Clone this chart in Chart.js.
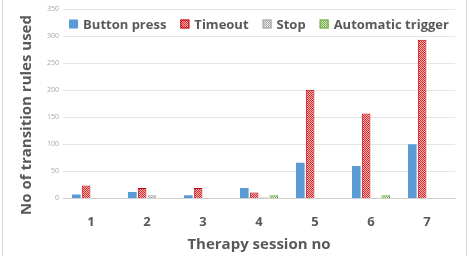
<!DOCTYPE html>
<html>
<head>
<meta charset="utf-8">
<script src="https://cdn.jsdelivr.net/npm/chart.js@4.4.0/dist/chart.umd.min.js"></script>
<style>
  html, body { margin: 0; padding: 0; background: #fff; }
  #wrap { position: relative; width: 473px; height: 256px; }
  #frame { position: absolute; left: 2px; top: -2px; width: 463px; height: 262px; border: 1px solid #d9d9d9; border-radius: 3px; pointer-events: none; }
</style>
</head>
<body>
<div id="wrap">
  <canvas id="barChart" width="473" height="256"></canvas>
  <div id="frame"></div>
</div>
<script>
// Data
const sessions = ["1", "2", "3", "4", "5", "6", "7"];
const buttonPress = [7, 12, 6, 19, 66, 60, 100];
const timeout = [24, 19, 19, 11, 201, 157, 293];
const stopValues = [0, 6, 1, 2, 0, 1, 0];
const automaticTrigger = [0, 0, 0, 6, 0, 6, 0];
const yTicks = [0, 50, 100, 150, 200, 250, 300, 350];
const yTitle = "No of transition rules used";

// small checkered fill like the office-style pattern bars
function makePattern(fg, bg) {
  const c = document.createElement("canvas");
  c.width = 2;
  c.height = 2;
  const g = c.getContext("2d");
  g.fillStyle = bg;
  g.fillRect(0, 0, 2, 2);
  g.fillStyle = fg;
  g.fillRect(0, 0, 1, 1);
  g.fillRect(1, 1, 1, 1);
  return g.createPattern(c, "repeat");
}

const grey = "#595959";
const font = "'Open Sans', 'DejaVu Sans', sans-serif";

// legend drawn inside the plot area, between the 350 and 300 gridlines,
// and the y title, which sits a little lower than the plot's middle
const extras = {
  id: "extras",
  afterDraw(chart) {
    const c = chart.ctx;
    const area = chart.chartArea;
    const box = 9;
    const gap = 5;
    const spacing = 14;
    c.save();
    c.font = "bold 13px " + font;
    c.textBaseline = "middle";
    const items = chart.data.datasets.map((ds) => ({
      ds,
      w: box + gap + c.measureText(ds.label).width,
    }));
    const total = items.reduce((s, it) => s + it.w, 0) + spacing * (items.length - 1);
    let x = (area.left + area.right) / 2 - total / 2;
    const y = area.top + 15;
    items.forEach((it) => {
      c.fillStyle = it.ds.backgroundColor;
      c.fillRect(x, y - box / 2, box, box);
      if (it.ds.borderWidth) {
        c.strokeStyle = it.ds.borderColor;
        c.lineWidth = 1;
        c.strokeRect(x + 0.5, y - box / 2 + 0.5, box - 1, box - 1);
      }
      c.fillStyle = grey;
      c.fillText(it.ds.label, x + box + gap, y + 1);
      x += it.w + spacing;
    });

    c.translate(27, 115);
    c.rotate(-Math.PI / 2);
    c.font = "bold 15px " + font;
    c.textAlign = "center";
    c.fillText(yTitle, 0, 0);
    c.restore();
  },
};

const ctx = document.getElementById("barChart").getContext("2d");

new Chart(ctx, {
  type: "bar",
  data: {
    labels: sessions,
    datasets: [
      {
        label: "Button press",
        data: buttonPress,
        backgroundColor: "#5B9BD5",
        borderWidth: 0,
      },
      {
        label: "Timeout",
        data: timeout,
        backgroundColor: makePattern("#D62A2F", "#F6B3B3"),
        borderColor: "#C00000",
        borderWidth: 1,
      },
      {
        label: "Stop",
        data: stopValues,
        backgroundColor: makePattern("#A5A5A5", "#EDEDED"),
        borderColor: "#A5A5A5",
        borderWidth: 1,
      },
      {
        label: "Automatic trigger",
        data: automaticTrigger,
        backgroundColor: makePattern("#70AD47", "#D5EAC8"),
        borderColor: "#70AD47",
        borderWidth: 1,
      },
    ],
  },
  options: {
    responsive: false,
    animation: false,
    layout: { padding: { left: 43, right: 18, top: 9, bottom: 2 } },
    datasets: {
      bar: { categoryPercentage: 0.7, barPercentage: 0.88 },
    },
    plugins: {
      legend: { display: false },
      tooltip: { enabled: false },
    },
    scales: {
      x: {
        grid: { display: false, drawTicks: false },
        border: { display: true, color: "#d0d0d0" },
        ticks: {
          color: grey,
          padding: 16,
          font: { family: font, size: 13, weight: "bold" },
        },
        title: {
          display: true,
          text: "Therapy session no",
          color: grey,
          padding: { top: -10, bottom: 0 },
          font: { family: font, size: 15, weight: "bold" },
        },
      },
      y: {
        min: 0,
        max: 350,
        afterBuildTicks: (axis) => {
          axis.ticks = yTicks.map((v) => ({ value: v }));
        },
        grid: {
          drawTicks: false,
          color: (c) => (c.tick && c.tick.value === 0 ? "#d0d0d0" : "#e6e6e6"),
        },
        border: { display: false },
        ticks: {
          color: "#a6a6a6",
          padding: 4,
          font: { family: font, size: 7 },
        },
      },
    },
  },
  plugins: [extras],
});
</script>
</body>
</html>
